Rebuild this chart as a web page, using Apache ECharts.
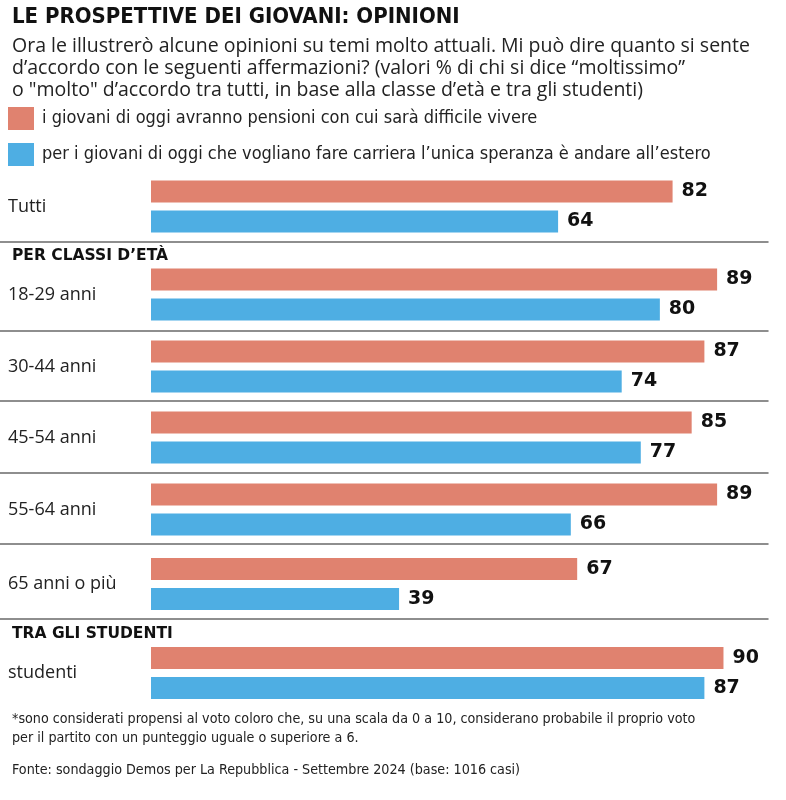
<!DOCTYPE html>
<html><head><meta charset="utf-8">
<script src="https://cdn.jsdelivr.net/npm/echarts@6/dist/echarts.min.js"></script>
<style>html,body{margin:0;padding:0;background:#fff}#c{width:786px;height:800px}</style>
</head><body><div id="c"></div>
<script>
const categories = ['Tutti', '18-29 anni', '30-44 anni', '45-54 anni', '55-64 anni', '65 anni o più', 'studenti'];
const pensioni = [82, 89, 87, 85, 89, 67, 90];
const estero = [64, 80, 74, 77, 66, 39, 87];
const seriesNames = [
  'i giovani di oggi avranno pensioni con cui sarà difficile vivere',
  'per i giovani di oggi che vogliano fare carriera l\u2019unica speranza è andare all\u2019estero'
];
const colors = ['#E0826F', '#4EAEE3'];

// layout of each group's grid (top, height, separator line below?)
const layout = [
  {top: 171, height: 71, line: true},
  {top: 258, height: 73, line: true},
  {top: 332, height: 69, line: true},
  {top: 402, height: 71, line: true},
  {top: 475, height: 69, line: true},
  {top: 549, height: 70, line: true},
  {top: 637, height: 72, line: false}
];

const narrow = '"Liberation Sans Narrow", "DejaVu Sans Condensed", sans-serif';
const grids = [], xAxes = [], yAxes = [], series = [];
categories.forEach((cat, i) => {
  grids.push({left: 0, right: 18, top: layout[i].top, height: layout[i].height});
  xAxes.push({
    type: 'value', gridIndex: i, min: -23.74, max: 97, position: 'bottom',
    axisLine: {show: layout[i].line, lineStyle: {color: '#6a6a6a', width: 1.5}},
    axisTick: {show: false}, axisLabel: {show: false}, splitLine: {show: false}
  });
  yAxes.push({
    type: 'category', gridIndex: i, data: [cat],
    axisLine: {show: false, onZero: false}, axisTick: {show: false}, splitLine: {show: false},
    axisLabel: {inside: true, margin: 8, color: '#222', fontFamily: '"Open Sans", sans-serif', fontSize: 18, padding: [0, 0, 4, 0]}
  });
  [pensioni, estero].forEach((arr, s) => {
    series.push({
      type: 'bar', name: seriesNames[s], xAxisIndex: i, yAxisIndex: i,
      data: [arr[i]], barWidth: 22, barGap: '36%',
      itemStyle: {color: colors[s]},
      label: {show: true, position: 'right', distance: 9, color: '#111',
        fontFamily: '"DejaVu Sans", sans-serif', fontWeight: 'bold', fontSize: 19},
      silent: true, animation: false
    });
  });
});

const chart = echarts.init(document.getElementById('c'), null, {renderer: 'canvas'});
chart.setOption({
  animation: false,
  title: [
    {text: 'LE PROSPETTIVE DEI GIOVANI: OPINIONI', left: 12, top: 6, padding: 0,
      textStyle: {fontFamily: narrow, fontWeight: 'bold', fontSize: 22, color: '#111'}},
    {text: 'Ora le illustrerò alcune opinioni su temi molto attuali. Mi può dire quanto si sente\nd\u2019accordo con le seguenti affermazioni? (valori % di chi si dice \u201cmoltissimo\u201d\no "molto" d\u2019accordo tra tutti, in base alla classe d\u2019età e tra gli studenti)',
      left: 12, top: 35, padding: 0,
      textStyle: {fontFamily: '"Open Sans", sans-serif', fontWeight: 'normal', fontSize: 19.5, lineHeight: 22, color: '#222'}},
    {text: 'PER CLASSI D\u2019ETÀ', left: 12, top: 248, padding: 0,
      textStyle: {fontFamily: '"DejaVu Sans", sans-serif', fontWeight: 'bold', fontSize: 15.5, color: '#111'}},
    {text: 'TRA GLI STUDENTI', left: 12, top: 626, padding: 0,
      textStyle: {fontFamily: '"DejaVu Sans", sans-serif', fontWeight: 'bold', fontSize: 15.5, color: '#111'}},
    {text: '*sono considerati propensi al voto coloro che, su una scala da 0 a 10, considerano probabile il proprio voto\nper il partito con un punteggio uguale o superiore a 6.',
      left: 12, top: 710, padding: 0,
      textStyle: {fontFamily: narrow, fontWeight: 'normal', fontSize: 14.2, lineHeight: 19, color: '#222'}},
    {text: 'Fonte: sondaggio Demos per La Repubblica - Settembre 2024 (base: 1016 casi)',
      left: 12, top: 763, padding: 0,
      textStyle: {fontFamily: narrow, fontWeight: 'normal', fontSize: 14.2, color: '#222'}}
  ],
  legend: {
    orient: 'vertical', left: 8, top: 107, padding: 0, itemWidth: 26, itemHeight: 23, itemGap: 13,
    icon: 'rect', data: seriesNames, selectedMode: false,
    textStyle: {fontFamily: narrow, fontSize: 18, color: '#222', padding: [0, 0, 0, 3]}
  },
  grid: grids, xAxis: xAxes, yAxis: yAxes, series: series
});
</script></body></html>
